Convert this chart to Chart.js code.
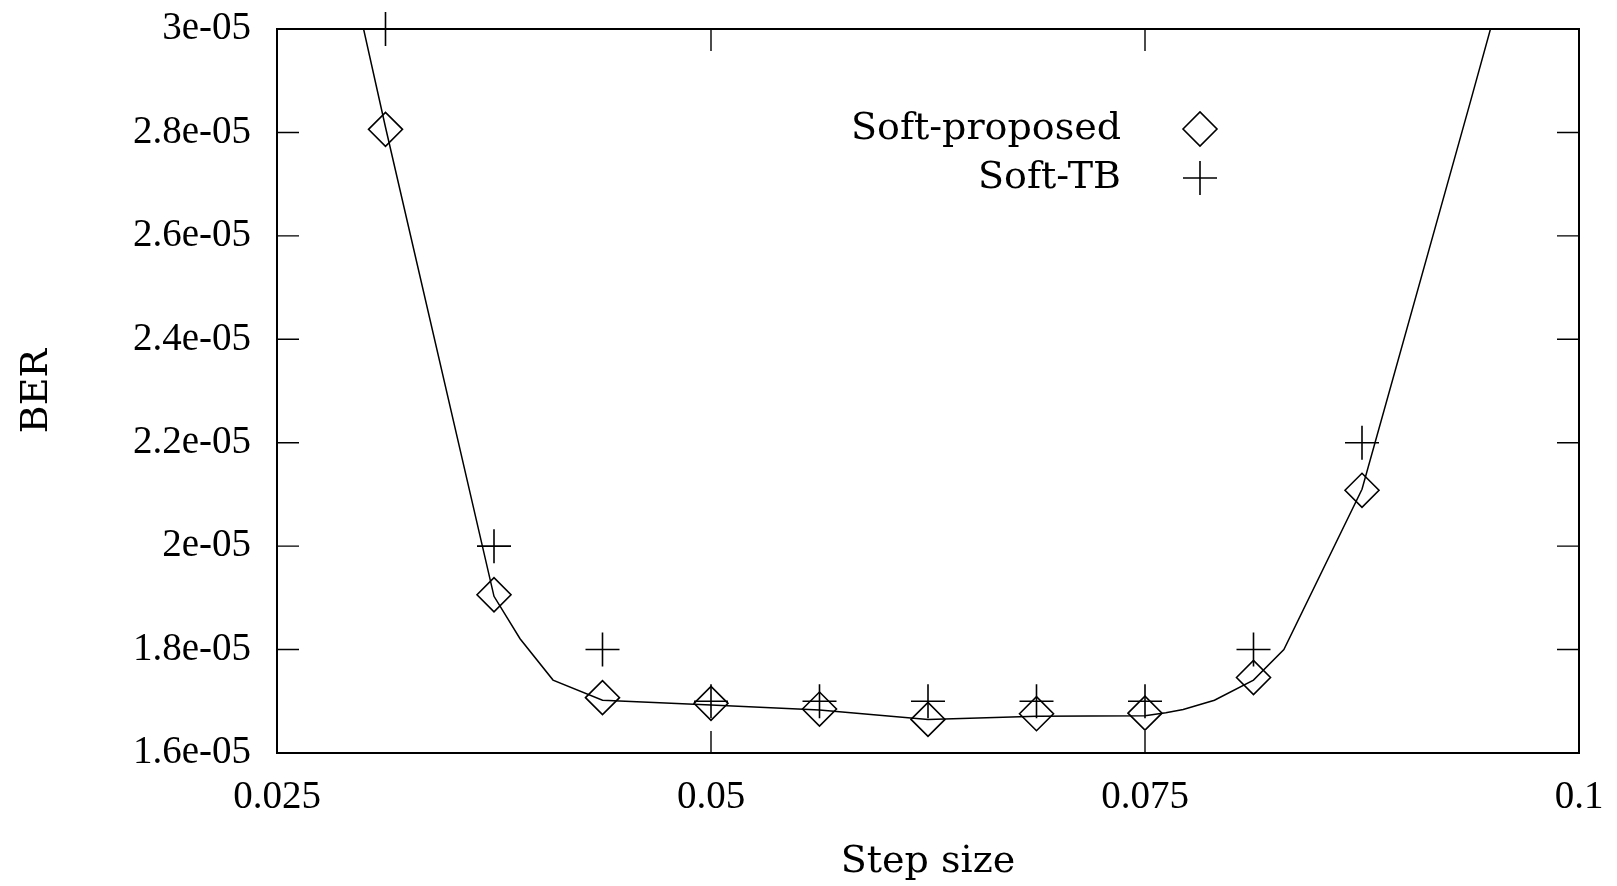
<!DOCTYPE html>
<html>
<head>
<meta charset="utf-8">
<script src="https://cdn.jsdelivr.net/npm/chart.js@4/dist/chart.umd.min.js"></script>
<style>
  html, body { margin: 0; padding: 0; background: #fff; }
  #wrap { width: 1617px; height: 886px; position: relative; }
</style>
</head>
<body>
<div id="wrap"><canvas id="berChart"></canvas></div>
<script>
// step sizes of the markers
const stepSizes = [0.03125, 0.0375, 0.04375, 0.05, 0.05625, 0.0625, 0.06875, 0.075, 0.08125, 0.0875];
// BER values
const softProposed = [2.806e-5, 1.906e-5, 1.707e-5, 1.696e-5, 1.685e-5, 1.665e-5, 1.676e-5, 1.677e-5, 1.746e-5, 2.108e-5];
const softTB = [3.0e-5, 2.0e-5, 1.8e-5, 1.7e-5, 1.7e-5, 1.7e-5, 1.7e-5, 1.7e-5, 1.8e-5, 2.2e-5];

// the thin reference curve (runs past the frame and gets clipped)
const curveX = [0.025, 0.03125, 0.0375, 0.0390, 0.0409, 0.04375, 0.05, 0.05625, 0.0625, 0.06875, 0.075, 0.0762, 0.0772, 0.0790, 0.08125, 0.0830, 0.0875, 0.09375, 0.1];
const curveY = [3.75e-5, 2.81e-5, 1.903e-5, 1.821e-5, 1.741e-5, 1.702e-5, 1.693e-5, 1.683e-5, 1.665e-5, 1.671e-5, 1.672e-5, 1.678e-5, 1.684e-5, 1.702e-5, 1.741e-5, 1.80e-5, 2.11e-5, 2.86e-5, 3.62e-5];

const xTicks = [0.025, 0.05, 0.075, 0.1];
const yTicks = [1.6e-5, 1.8e-5, 2.0e-5, 2.2e-5, 2.4e-5, 2.6e-5, 2.8e-5, 3.0e-5];

const tickFont = { family: "'Liberation Serif', serif", size: 39 };
const labelFont = "38px 'DejaVu Serif', serif";

function toPoints(xs, ys) {
  return xs.map((x, i) => ({ x: x, y: ys[i] }));
}

function fmtY(v) {
  return Number((v / 1e-5).toFixed(1)) + 'e-05';
}

// gnuplot style frame with inward ticks and a key on the right
const gnuplotFrame = {
  id: 'gnuplotFrame',
  afterDraw(chart) {
    const { ctx, chartArea: a, scales } = chart;
    const tl = 22;
    ctx.save();
    ctx.strokeStyle = '#000';
    ctx.lineWidth = 1.4;
    ctx.beginPath();
    xTicks.forEach(v => {
      const px = scales.x.getPixelForValue(v);
      ctx.moveTo(px, a.bottom); ctx.lineTo(px, a.bottom - tl);
      ctx.moveTo(px, a.top); ctx.lineTo(px, a.top + tl);
    });
    yTicks.forEach(v => {
      const py = scales.y.getPixelForValue(v);
      ctx.moveTo(a.left, py); ctx.lineTo(a.left + tl, py);
      ctx.moveTo(a.right, py); ctx.lineTo(a.right - tl, py);
    });
    ctx.stroke();
    ctx.lineWidth = 2;
    ctx.strokeRect(a.left, a.top, a.right - a.left, a.bottom - a.top);

    // key
    const textX = a.right - 458;
    const symX = a.right - 379;
    ctx.font = labelFont;
    ctx.fillStyle = '#000';
    ctx.textAlign = 'right';
    ctx.textBaseline = 'middle';
    ctx.lineWidth = 1.6;
    [0, 1].forEach(i => {
      const ds = chart.data.datasets[i];
      const y = a.top + 100 + 49 * i;
      ctx.fillText(ds.label, textX, y);
      const r = ds.pointRadius;
      ctx.beginPath();
      if (ds.pointStyle === 'rectRot') {
        ctx.moveTo(symX - r, y); ctx.lineTo(symX, y - r);
        ctx.lineTo(symX + r, y); ctx.lineTo(symX, y + r);
        ctx.closePath();
      } else {
        ctx.moveTo(symX - r, y); ctx.lineTo(symX + r, y);
        ctx.moveTo(symX, y - r); ctx.lineTo(symX, y + r);
      }
      ctx.stroke();
    });
    ctx.restore();
  }
};

const ctx = document.getElementById('berChart').getContext('2d');
const berChart = new Chart(ctx, {
  type: 'scatter',
  data: {
    datasets: [
      {
        label: 'Soft-proposed',
        data: toPoints(stepSizes, softProposed),
        pointStyle: 'rectRot',
        pointRadius: 17,
        borderColor: '#000',
        backgroundColor: 'rgba(0,0,0,0)',
        borderWidth: 1.6,
        showLine: false,
        clip: false
      },
      {
        label: 'Soft-TB',
        data: toPoints(stepSizes, softTB),
        pointStyle: 'cross',
        pointRadius: 17,
        borderColor: '#000',
        backgroundColor: 'rgba(0,0,0,0)',
        borderWidth: 1.6,
        showLine: false,
        clip: false
      },
      {
        label: 'curve',
        type: 'line',
        data: toPoints(curveX, curveY),
        borderColor: '#000',
        borderWidth: 1.5,
        pointRadius: 0,
        tension: 0,
        fill: false,
        clip: 0
      }
    ]
  },
  options: {
    responsive: true,
    maintainAspectRatio: false,
    animation: false,
    events: [],
    layout: { padding: { left: 0, right: 38, top: 29, bottom: 0 } },
    plugins: {
      legend: { display: false },
      tooltip: { enabled: false }
    },
    scales: {
      x: {
        type: 'linear',
        min: 0.025,
        max: 0.1,
        grid: { display: false, drawTicks: false },
        border: { display: false },
        afterBuildTicks: s => { s.ticks = xTicks.map(v => ({ value: v })); },
        afterFit: s => { s.height = 133; s.paddingLeft = 0; s.paddingRight = 0; },
        ticks: {
          font: tickFont,
          color: '#000',
          padding: 21,
          maxRotation: 0,
          callback: v => String(Number(v.toFixed(3)))
        },
        title: {
          display: true,
          text: 'Step size',
          color: '#000',
          font: { family: "'DejaVu Serif', serif", size: 38 },
          padding: { top: 0, bottom: 1 }
        }
      },
      y: {
        type: 'linear',
        min: 1.6e-5,
        max: 3.0e-5,
        grid: { display: false, drawTicks: false },
        border: { display: false },
        afterBuildTicks: s => { s.ticks = yTicks.map(v => ({ value: v })); },
        afterFit: s => { s.width = 277; s.paddingTop = 0; s.paddingBottom = 0; },
        ticks: {
          font: tickFont,
          color: '#000',
          padding: 26,
          callback: v => fmtY(v)
        },
        title: {
          display: true,
          text: 'BER',
          color: '#000',
          font: { family: "'DejaVu Serif', serif", size: 38 },
          padding: { top: 14, bottom: 0 }
        }
      }
    }
  },
  plugins: [gnuplotFrame]
});
</script>
</body>
</html>
